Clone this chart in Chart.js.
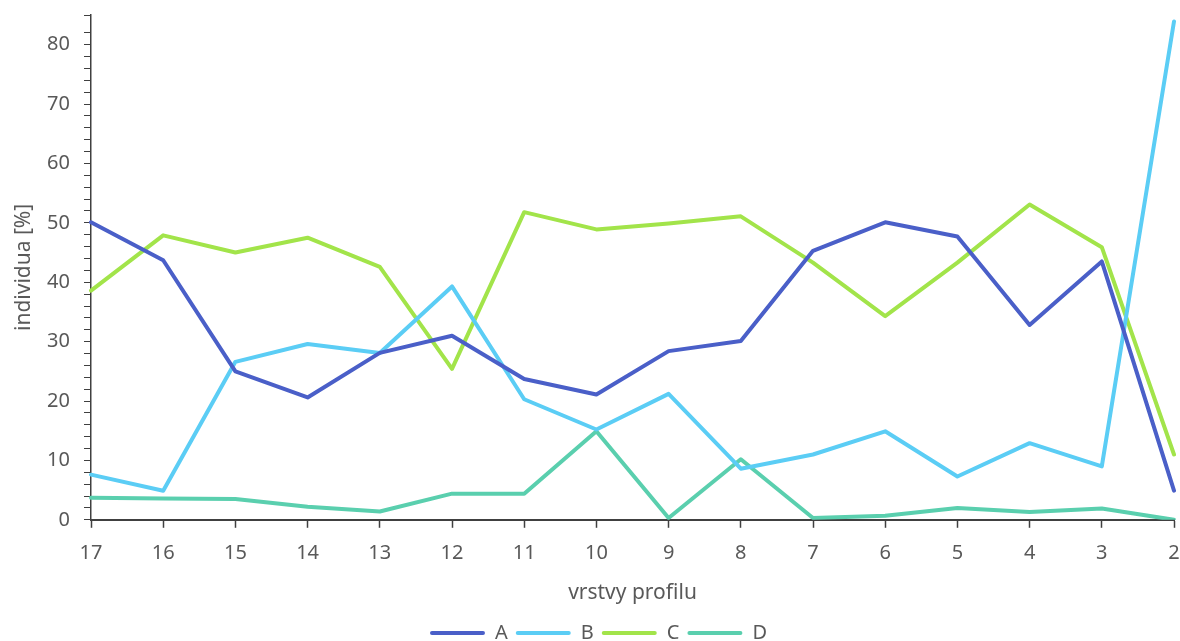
<!DOCTYPE html>
<html>
<head>
<meta charset="utf-8">
<script src="https://cdn.jsdelivr.net/npm/chart.js@4.4.1/dist/chart.umd.min.js"></script>
<style>
  html, body { margin: 0; padding: 0; background: #fff; }
  #wrap { width: 1180px; height: 641px; }
</style>
</head>
<body>
<div id="wrap"><canvas id="chart" width="1180" height="641"></canvas></div>
<script>
// vrstvy profilu (zleva doprava)
const layers = ['17', '16', '15', '14', '13', '12', '11', '10', '9', '8', '7', '6', '5', '4', '3', '2'];

const seriesA = [50.1, 43.7, 25.0, 20.6, 28.1, 31.0, 23.7, 21.1, 28.4, 30.1, 45.3, 50.1, 47.7, 32.8, 43.5, 4.9];
const seriesB = [7.6, 4.9, 26.6, 29.6, 28.1, 39.3, 20.3, 15.2, 21.2, 8.6, 11.0, 14.9, 7.3, 12.9, 9.0, 83.9];
const seriesC = [38.6, 47.9, 45.0, 47.5, 42.6, 25.4, 51.8, 48.9, 49.9, 51.1, 43.3, 34.3, 43.3, 53.1, 45.9, 11.0];
const seriesD = [3.7, 3.6, 3.5, 2.2, 1.4, 4.4, 4.4, 14.9, 0.3, 10.2, 0.3, 0.7, 2.0, 1.3, 1.9, 0.0];

const yMajorTicks = [0, 10, 20, 30, 40, 50, 60, 70, 80];

const textColor = '#595959';
const axisColor = '#404040';
const fontFamily = '"Noto Sans", "Open Sans", sans-serif';

function line(label, data, color) {
    return {
        label: label,
        data: data,
        borderColor: color,
        backgroundColor: color,
        borderWidth: 4,
        pointRadius: 0,
        tension: 0,
        borderCapStyle: 'round',
        borderJoinStyle: 'round'
    };
}

// legenda je v originale trochu vpravo od stredu
const legendShift = {
    id: 'legendShift',
    afterLayout(chart) {
        if (!chart.legend) return;
        chart.legend.left += 9;
        chart.legend.right += 9;
    }
};

new Chart(document.getElementById('chart'), {
    type: 'line',
    data: {
        labels: layers,
        datasets: [
            line('A', seriesA, '#4a5fc8'),
            line('B', seriesB, '#5bcdf5'),
            line('C', seriesC, '#a2e44a'),
            line('D', seriesD, '#5acfae')
        ]
    },
    plugins: [legendShift],
    options: {
        responsive: false,
        animation: false,
        layout: { padding: { left: 0, right: 1, top: 15, bottom: -12 } },
        plugins: {
            tooltip: { enabled: false },
            legend: {
                position: 'bottom',
                labels: {
                    color: textColor,
                    font: { family: fontFamily, size: 20 },
                    boxWidth: 55,
                    boxHeight: 4,
                    useBorderRadius: true,
                    borderRadius: 2,
                    padding: 8,
                    // jen tenka cara bez obrysu
                    generateLabels: (chart) => Chart.defaults.plugins.legend.labels
                        .generateLabels(chart)
                        .map(item => ({ ...item, lineWidth: 0 }))
                }
            }
        },
        scales: {
            x: {
                offset: false,
                afterFit: (scale) => { scale.paddingRight = 6; },
                grid: {
                    display: true,
                    drawOnChartArea: false,
                    color: axisColor,
                    tickLength: 8,
                    tickWidth: 1.5
                },
                border: { color: axisColor, width: 2 },
                ticks: {
                    color: textColor,
                    font: { family: fontFamily, size: 20 },
                    padding: 13,
                    maxRotation: 0,
                    autoSkip: false
                },
                title: {
                    display: true,
                    text: 'vrstvy profilu',
                    color: textColor,
                    font: { family: fontFamily, size: 21 },
                    padding: { top: 3, bottom: 9 }
                }
            },
            y: {
                min: 0,
                max: 85,
                afterFit: (scale) => {
                    scale.width = 91;
                    scale.paddingTop = 0;
                },
                grid: {
                    display: true,
                    drawOnChartArea: false,
                    color: axisColor,
                    tickLength: 7,
                    tickWidth: 1
                },
                border: { color: axisColor, width: 1.5 },
                ticks: {
                    stepSize: 2,
                    autoSkip: false,
                    color: textColor,
                    font: { family: fontFamily, size: 20 },
                    padding: 14,
                    callback: (v) => yMajorTicks.includes(v) ? String(v) : ''
                },
                title: {
                    display: true,
                    text: 'individua [%]',
                    color: textColor,
                    font: { family: fontFamily, size: 21 },
                    padding: { top: 11, bottom: 4 }
                }
            }
        }
    }
});
</script>
</body>
</html>
